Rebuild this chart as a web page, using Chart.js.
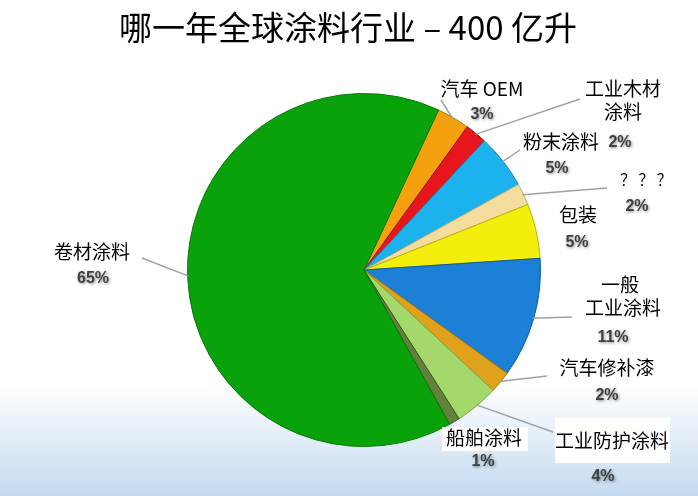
<!DOCTYPE html>
<html><head><meta charset="utf-8">
<script src="https://cdn.jsdelivr.net/npm/chart.js@4.4.1/dist/chart.umd.min.js"></script>
<style>html,body{margin:0;padding:0;background:#fff}#c{display:block}</style>
</head><body>
<canvas id="c" width="698" height="496"></canvas>
<script>
const titleText = '哪一年全球涂料行业 – 400 亿升';
const categories = ['汽车 OEM','工业木材涂料','粉末涂料','？？？','包装','一般工业涂料','汽车修补漆','工业防护涂料','船舶涂料','卷材涂料'];
const shares = [3,2,5,2,5,11,2,4,1,65];
const percentLabels = ['3%','2%','5%','2%','5%','11%','2%','4%','1%','65%'];
const sliceColors = ['#f5a00f','#e8161c','#1cb2ee','#f4dc9c','#f3ee0c','#1b80d6','#e0a11c','#a4d86a','#62823c','#0aa20a'];
const sliceBorders = ['#c47c00','#a80c10','#0c86b8','#c8b070','#b8b400','#0c5aa0','#a8760c','#78a848','#3c5424','#067a06'];

// label layout: name lines, name position, percent position, leader start (or null), white box
const labelLayout = [
  {lines:['汽车 OEM'], x:482, y:89, px:482, py:115, lead:[441,100]},
  {lines:['工业木材','涂料'], x:623, y:89, px:620, py:143, lead:[580,99]},
  {lines:['粉末涂料'], x:561, y:142, px:557, py:169, lead:[520,150]},
  {lines:['？ ？ ？'], x:646, y:179, px:637, py:207, lead:[607,188], small:true},
  {lines:['包装'], x:578, y:215, px:577, py:243, lead:null},
  {lines:['一般','工业涂料'], x:620, y:285, px:613, py:338, lead:[572,317], dx2:3},
  {lines:['汽车修补漆'], x:607, y:368, px:607, py:396, lead:[547,376]},
  {lines:['工业防护涂料'], x:612, y:441, px:603, py:477, lead:[553,432], box:[555,418,115,45]},
  {lines:['船舶涂料'], x:484, y:438, px:483, py:462, lead:null, box:[442,427,86,24]},
  {lines:['卷材涂料'], x:92, y:252, px:93, py:279, lead:[142,258]}
];

const bgPlugin = {
  id:'bg',
  beforeDraw(chart){
    const ctx = chart.ctx, W = chart.width, H = chart.height;
    ctx.save();
    ctx.fillStyle = '#fff'; ctx.fillRect(0,0,W,H);
    const g = ctx.createLinearGradient(0,385,0,H);
    g.addColorStop(0,'#ffffff'); g.addColorStop(1,'#c4daf0');
    ctx.fillStyle = g; ctx.fillRect(0,385,W,H-385);
    ctx.fillStyle = '#000';
    ctx.font = '33px "Noto Sans CJK SC", sans-serif';
    ctx.textAlign = 'center'; ctx.textBaseline = 'middle';
    ctx.fillText(titleText, 348, 27);
    ctx.restore();
  }
};

const labelPlugin = {
  id:'labels',
  afterDatasetsDraw(chart){
    const ctx = chart.ctx;
    const arcs = chart.getDatasetMeta(0).data;
    ctx.save();
    arcs.forEach((arc, i) => {
      const L = labelLayout[i];
      const p = arc.getProps(['x','y','startAngle','endAngle','outerRadius']);
      if (L.lead) {
        const mid = (p.startAngle + p.endAngle)/2;
        const ex = p.x + Math.cos(mid)*(p.outerRadius-1);
        const ey = p.y + Math.sin(mid)*(p.outerRadius-1);
        ctx.strokeStyle = '#a0a0a0'; ctx.lineWidth = 1.5;
        ctx.beginPath(); ctx.moveTo(L.lead[0], L.lead[1]); ctx.lineTo(ex, ey); ctx.stroke();
      }
      if (L.box) {
        ctx.fillStyle = '#fff';
        ctx.fillRect(L.box[0], L.box[1], L.box[2], L.box[3]);
      }
      ctx.fillStyle = '#000';
      ctx.textAlign = 'center'; ctx.textBaseline = 'middle';
      ctx.font = (L.small ? '15px' : '19px') + ' "Noto Sans CJK SC", sans-serif';
      L.lines.forEach((t, k) => {
        ctx.fillText(t, L.x + (k>0 && L.dx2 ? L.dx2 : 0), L.y + k*23);
      });
      ctx.save();
      ctx.font = 'bold 16px "Liberation Sans", Arial, sans-serif';
      ctx.fillStyle = '#404040';
      ctx.shadowColor = 'rgba(0,0,0,0.45)'; ctx.shadowBlur = 3;
      ctx.shadowOffsetX = 1; ctx.shadowOffsetY = 1;
      ctx.fillText(percentLabels[i], L.px, L.py);
      ctx.restore();
    });
    ctx.restore();
  }
};

new Chart(document.getElementById('c'), {
  type:'pie',
  data:{
    labels: categories,
    datasets:[{
      data: shares,
      backgroundColor: sliceColors,
      borderColor: sliceBorders,
      borderWidth: 1
    }]
  },
  options:{
    responsive:false,
    animation:false,
    rotation: 25,
    layout:{padding:{top:93,bottom:49,left:187,right:157}},
    plugins:{legend:{display:false}, tooltip:{enabled:false}, title:{display:false}}
  },
  plugins:[bgPlugin, labelPlugin]
});
</script>
</body></html>
